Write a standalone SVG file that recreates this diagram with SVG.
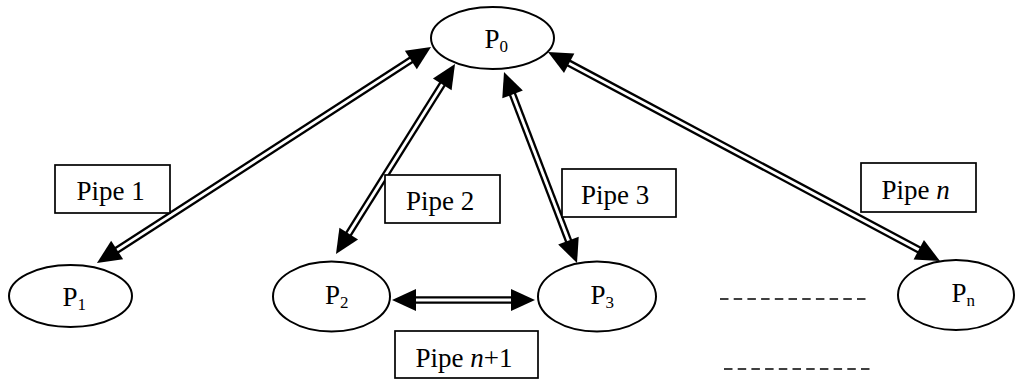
<svg xmlns="http://www.w3.org/2000/svg" width="1015" height="379" viewBox="0 0 1015 379">
<style>
.node{fill:#fff;stroke:#000;stroke-width:2}
.box{fill:#fff;stroke:#000;stroke-width:1.7}
.t{font-family:"Liberation Serif","Times New Roman",serif;font-size:27px;fill:#000}
.sub{font-size:17px}
.head{fill:#000;stroke:none}
.shaft{stroke:#000;stroke-width:2.3;fill:none}
.dash{stroke:#000;stroke-width:1.7;stroke-dasharray:8.5 5.2;fill:none}
</style>
<rect width="1015" height="379" fill="#fff"/>
<g id="connectors">
  <g id="pipe1-arrow" transform="translate(431,47) rotate(147.11)">
    <line class="shaft" x1="20" y1="-2.6" x2="377.8" y2="-2.6"/>
    <line class="shaft" x1="20" y1="2.6" x2="377.8" y2="2.6"/>
    <polygon class="head" points="0,0 24,-11 24,11"/>
    <polygon class="head" points="397.8,0 373.8,-11 373.8,11"/>
  </g>
  <g id="pipe2-arrow" transform="translate(455,64) rotate(122.06)">
    <line class="shaft" x1="20" y1="-2.6" x2="204.2" y2="-2.6"/>
    <line class="shaft" x1="20" y1="2.6" x2="204.2" y2="2.6"/>
    <polygon class="head" points="0,0 24,-11 24,11"/>
    <polygon class="head" points="224.2,0 200.2,-11 200.2,11"/>
  </g>
  <g id="pipe3-arrow" transform="translate(504,72) rotate(69.08)">
    <line class="shaft" x1="20" y1="-2.6" x2="184.5" y2="-2.6"/>
    <line class="shaft" x1="20" y1="2.6" x2="184.5" y2="2.6"/>
    <polygon class="head" points="0,0 24,-11 24,11"/>
    <polygon class="head" points="204.5,0 180.5,-11 180.5,11"/>
  </g>
  <g id="pipen-arrow" transform="translate(548,52) rotate(28.07)">
    <line class="shaft" x1="20" y1="-2.6" x2="424.2" y2="-2.6"/>
    <line class="shaft" x1="20" y1="2.6" x2="424.2" y2="2.6"/>
    <polygon class="head" points="0,0 24,-11 24,11"/>
    <polygon class="head" points="444.2,0 420.2,-11 420.2,11"/>
  </g>
  <g id="pipen1-arrow" transform="translate(392,300)">
    <line class="shaft" x1="20" y1="-2.6" x2="123" y2="-2.6"/>
    <line class="shaft" x1="20" y1="2.6" x2="123" y2="2.6"/>
    <polygon class="head" points="0,0 24,-11 24,11"/>
    <polygon class="head" points="143,0 119,-11 119,11"/>
  </g>
  <line class="dash" x1="720" y1="299" x2="866" y2="299"/>
  <line class="dash" x1="724" y1="369" x2="870" y2="369"/>
</g>
<g id="P0">
  <ellipse class="node" cx="492.5" cy="38" rx="61.5" ry="31"/>
  <text class="t" x="484.5" y="48">P<tspan class="sub" dy="4">0</tspan></text>
</g>
<g id="P1">
  <ellipse class="node" cx="70.5" cy="296" rx="61.5" ry="31"/>
  <text class="t" x="62.5" y="306">P<tspan class="sub" dy="4">1</tspan></text>
</g>
<g id="P2">
  <ellipse class="node" cx="331.5" cy="296.5" rx="58.5" ry="35"/>
  <text class="t" x="325" y="304">P<tspan class="sub" dy="4">2</tspan></text>
</g>
<g id="P3">
  <ellipse class="node" cx="597" cy="296.5" rx="59" ry="35"/>
  <text class="t" x="590.5" y="304">P<tspan class="sub" dy="4">3</tspan></text>
</g>
<g id="Pn">
  <ellipse class="node" cx="956" cy="295" rx="58" ry="35"/>
  <text class="t" x="951.5" y="302">P<tspan class="sub" dy="4">n</tspan></text>
</g>
<g id="Pipe1">
  <rect class="box" x="55" y="165" width="115" height="48"/>
  <text class="t" x="76.5" y="199.5">Pipe 1</text>
</g>
<g id="Pipe2">
  <rect class="box" x="385" y="175" width="115" height="48"/>
  <text class="t" x="406" y="210">Pipe 2</text>
</g>
<g id="Pipe3">
  <rect class="box" x="562" y="169" width="114" height="48"/>
  <text class="t" x="581" y="204">Pipe 3</text>
</g>
<g id="Pipen">
  <rect class="box" x="861" y="163" width="115" height="49"/>
  <text class="t" x="881.5" y="198.5">Pipe <tspan font-style="italic">n</tspan></text>
</g>
<g id="Pipen1">
  <rect class="box" x="395" y="331" width="143" height="47"/>
  <text class="t" x="415.5" y="366.5">Pipe <tspan font-style="italic">n</tspan>+1</text>
</g>
</svg>
